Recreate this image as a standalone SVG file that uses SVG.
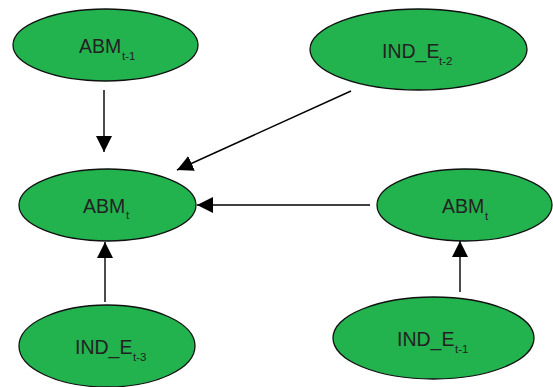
<svg xmlns="http://www.w3.org/2000/svg" width="553" height="387" viewBox="0 0 553 387">
<style>
.node ellipse{fill:#22b24e;stroke:#111;stroke-width:1.3}
.lbl{font-family:"Liberation Sans",Arial,sans-serif;font-size:19.5px;fill:#222}
.sub{font-family:"Liberation Sans",Arial,sans-serif;font-size:11.5px;fill:#222}
.edge{stroke:#000;stroke-width:1.4;fill:none;marker-end:url(#ah)}
</style>
<defs>
<marker id="ah" markerUnits="userSpaceOnUse" markerWidth="16" markerHeight="16" refX="16" refY="8" orient="auto" viewBox="0 0 16 16">
<path d="M0,0 L16,8 L0,16 z" fill="#000"/>
</marker>
</defs>
<rect width="553" height="387" fill="#fff"/>
<g id="connectors">
<line class="edge" x1="104" y1="90" x2="104" y2="152"/>
<line class="edge" x1="351" y1="91" x2="177" y2="170"/>
<line class="edge" x1="370" y1="205" x2="197" y2="205"/>
<line class="edge" x1="105" y1="302" x2="105" y2="242"/>
<line class="edge" x1="460" y1="292" x2="460" y2="241"/>
</g>
<g id="n_abm_t1" class="node">
<ellipse cx="105.5" cy="45" rx="92.5" ry="36"/>
<text class="lbl" x="79" y="53">ABM</text><text class="sub" x="122" y="60">t-1</text>
</g>
<g id="n_ind_t2" class="node">
<ellipse cx="418.5" cy="49.5" rx="108.5" ry="40.5"/>
<text class="lbl" x="382" y="58">IND_E</text><text class="sub" x="439" y="65">t-2</text>
</g>
<g id="n_abm_t" class="node">
<ellipse cx="107.5" cy="205" rx="88.5" ry="36"/>
<text class="lbl" x="83" y="213">ABM</text><text class="sub" x="126" y="219">t</text>
</g>
<g id="n_abm_t_r" class="node">
<ellipse cx="464.5" cy="205" rx="87.5" ry="36"/>
<text class="lbl" x="442" y="213">ABM</text><text class="sub" x="485" y="220">t</text>
</g>
<g id="n_ind_t3" class="node">
<ellipse cx="107" cy="346" rx="88" ry="41"/>
<text class="lbl" x="75" y="354">IND_E</text><text class="sub" x="133" y="361">t-3</text>
</g>
<g id="n_ind_t1" class="node">
<ellipse cx="433.5" cy="338" rx="100.5" ry="41"/>
<text class="lbl" x="397" y="346">IND_E</text><text class="sub" x="455" y="353">t-1</text>
</g>
</svg>
